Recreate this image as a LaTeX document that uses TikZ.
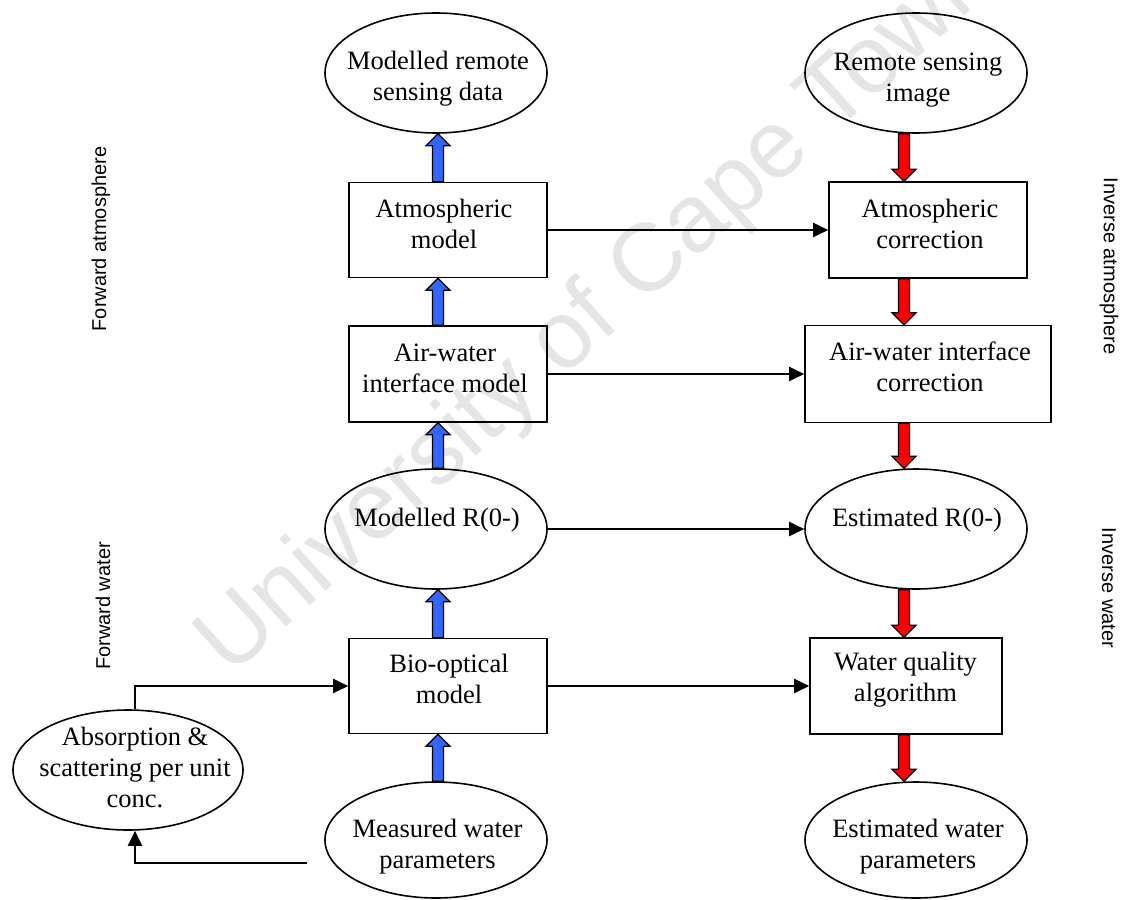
\documentclass[tikz,border=0pt]{standalone}
\usepackage{fontspec}
\setmainfont{Liberation Serif}
\newfontfamily\lsans{Liberation Sans}
\usetikzlibrary{arrows.meta,calc,shapes.geometric}
\definecolor{bluearr}{RGB}{51,102,255}
\definecolor{redarr}{RGB}{255,0,0}
\definecolor{wmark}{RGB}{229,229,229}
\newcommand\blockarr[3]{%
  \coordinate (ba-s) at (#2);
  \coordinate (ba-e) at (#3);
  \coordinate (ba-h) at ($(ba-e)!12pt!(ba-s)$);
  \filldraw[barr, fill=#1] ($(ba-s)!5.5pt!90:(ba-e)$) -- ($(ba-h)!5.5pt!-90:(ba-s)$)
    -- ($(ba-h)!12pt!-90:(ba-s)$) -- (ba-e) -- ($(ba-h)!12pt!90:(ba-s)$)
    -- ($(ba-h)!5.5pt!90:(ba-s)$) -- ($(ba-s)!5.5pt!-90:(ba-e)$) -- cycle;}
\begin{document}
\begin{tikzpicture}[x=1pt,y=-1pt,
  boxst/.style={draw, line width=1.6pt, rectangle, inner sep=0pt},
  ellst/.style={draw, line width=1.6pt, ellipse, inner sep=0pt, minimum width=222pt, minimum height=120pt},
  txt/.style={font=\fontsize{26.5}{31}\selectfont, align=center, inner sep=0pt},
  side/.style={font=\lsans\fontsize{20}{24}\selectfont, inner sep=0pt},
  wm/.style={font=\lsans\fontsize{96}{96}\selectfont, text=wmark, inner sep=0pt, rotate=42},
  conn/.style={line width=2pt, -{Triangle[length=15pt,width=14pt]}},
  barr/.style={draw=black, line width=1.2pt, line join=miter},
]
\useasboundingbox (0,0) rectangle (1121,899);
\fill[white] (0,0) rectangle (1121,899);
\node[wm] (wmk) at (598,313) {University of Cape Town};

% left column
\node[ellst] (mrs) at (436,73) {};
\node[txt] (mrst) at (438,79) {Modelled remote\\sensing data};
\node[boxst, minimum width=198pt, minimum height=95pt] (am) at (448,230) {};
\node[txt] (amt) at (444,224) {Atmospheric\\model};
\node[boxst, minimum width=198pt, minimum height=96pt] (awm) at (448,374) {};
\node[txt] (awmt) at (445,368) {Air-water\\interface model};
\node[ellst] (mr) at (436,529) {};
\node[txt] (mrt) at (437,520) {Modelled R(0-)};
\node[boxst, minimum width=198pt, minimum height=95pt] (bio) at (448,686) {};
\node[txt] (biot) at (449,679) {Bio-optical\\model};
\node[ellst, minimum height=116pt] (mw) at (436,840) {};
\node[txt] (mwt) at (437.5,847) {Measured water\\parameters};
\node[ellst, minimum width=230pt] (abs) at (128,770) {};
\node[txt] (abst) at (135,767.5) {Absorption \&\\scattering per unit\\conc.};

% right column
\node[ellst] (rsi) at (916,73) {};
\node[txt] (rsit) at (918,80) {Remote sensing\\image};
\node[boxst, minimum width=198pt, minimum height=96pt] (ac) at (928,230) {};
\node[txt] (act) at (930,224) {Atmospheric\\correction};
\node[boxst, minimum width=246pt, minimum height=97pt] (awc) at (928,374) {};
\node[txt] (awct) at (930,367) {Air-water interface\\correction};
\node[ellst] (er) at (916,529) {};
\node[txt] (ert) at (917,520) {Estimated R(0-)};
\node[boxst, minimum width=192pt, minimum height=96pt] (wq) at (906,686) {};
\node[txt] (wqt) at (905.5,680) {Water quality\\algorithm};
\node[ellst, minimum height=116pt] (ew) at (916,840) {};
\node[txt] (ewt) at (918,847) {Estimated water\\parameters};

% side labels
\node[side, rotate=90] (fa) at (101,239) {Forward atmosphere};
\node[side, rotate=90] (fw) at (103,606) {Forward water};
\node[side, rotate=-90] (ia) at (1109,266) {Inverse atmosphere};
\node[side, rotate=-90] (iw) at (1109,588) {Inverse water};

% connectors
\draw[conn] (am.east) -- (ac.west);
\draw[conn] (awm.east) -- (awc.west);
\draw[conn] (mr.east) -- (er.west);
\draw[conn] (bio.east) -- (wq.west);
\draw[conn] ([xshift=7pt]abs.north) |- (bio.west);
\coordinate (fe) at (307,863);
\draw[conn] (fe) -| ([xshift=7pt]abs.south);

% block arrows
\coordinate (bx) at (438,0);
\coordinate (rx) at (904,0);
\blockarr{bluearr}{am.north -| bx}{mrs.south -| bx}
\blockarr{bluearr}{awm.north -| bx}{am.south -| bx}
\blockarr{bluearr}{mr.north -| bx}{awm.south -| bx}
\blockarr{bluearr}{bio.north -| bx}{mr.south -| bx}
\blockarr{bluearr}{mw.north -| bx}{bio.south -| bx}
\blockarr{redarr}{rsi.south -| rx}{ac.north -| rx}
\blockarr{redarr}{ac.south -| rx}{awc.north -| rx}
\blockarr{redarr}{awc.south -| rx}{er.north -| rx}
\blockarr{redarr}{er.south -| rx}{wq.north -| rx}
\blockarr{redarr}{wq.south -| rx}{ew.north -| rx}
\end{tikzpicture}
\end{document}
